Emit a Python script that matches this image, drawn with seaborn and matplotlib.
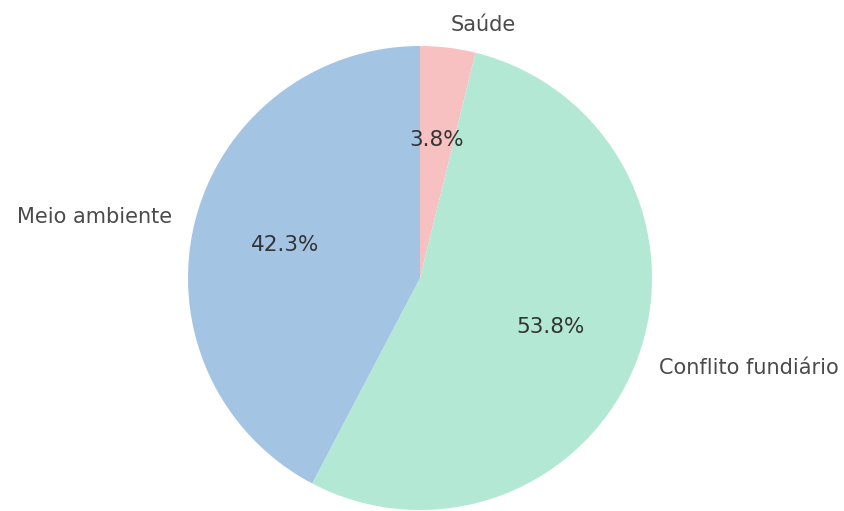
import matplotlib
matplotlib.use("Agg")
import matplotlib.pyplot as plt
import seaborn as sns

sns.set_theme(style="white")
plt.rcParams['font.family'] = ['DejaVu Sans']

categories = ["Saúde", "Conflito fundiário", "Meio ambiente"]
counts = [1, 14, 11]
colors = ["#f7c1c1", "#b3e9d4", "#a4c4e4"]

fig = plt.figure(figsize=(8.44, 5.11), dpi=100)
ax = fig.add_axes([188/844, 1/511, 464/844, 464/511])
wedges, texts, autotexts = ax.pie(
    counts, labels=categories, colors=colors, autopct="%1.1f%%",
    startangle=90, counterclock=False,
    wedgeprops=dict(linewidth=0),
    textprops=dict(fontsize=15, color="#4a4a4a"))
for t in autotexts:
    t.set_color("#333333")
    t.set_fontsize(15.5)
ax.set_xlim(-1, 1)
ax.set_ylim(-1, 1)
ax.set_aspect("equal")
fig.savefig("out.png", dpi=100)
